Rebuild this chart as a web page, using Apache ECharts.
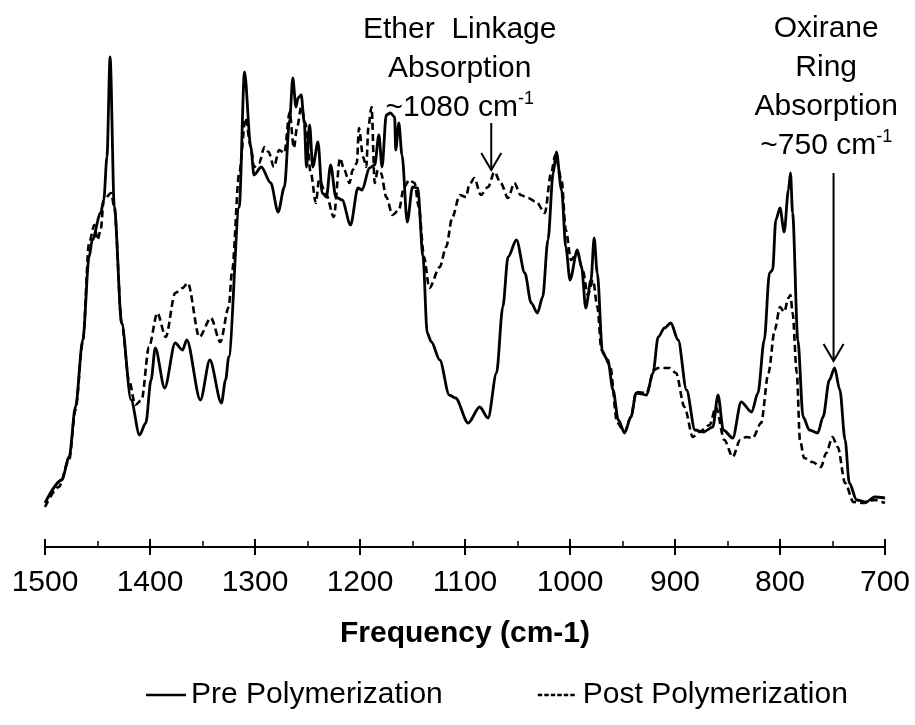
<!DOCTYPE html>
<html>
<head>
<meta charset="utf-8">
<title>FTIR spectra</title>
<script src="https://cdn.jsdelivr.net/npm/echarts@6/dist/echarts.min.js"></script>
<style>
  html, body { margin: 0; padding: 0; background: #fff; }
  #chart { width: 915px; height: 725px; }
</style>
</head>
<body>
<div id="chart"></div>
<script>
// Wavenumber axis ticks (cm-1), drawn high to low
const freqTicks = [1500, 1400, 1300, 1200, 1100, 1000, 900, 800, 700];

// Pre-polymerization spectrum: wavenumber and relative absorbance
const freqPre = [1500,1484,1477,1471,1464,1458,1455,1447,1444,1441,1438,1434,1427,1418,1410,1404,1399,1395,1386,1376,1369,1365,1352,1343,1332,1328,1325,1315,1310,1304,1301,1294,1285,1278,1272,1267,1264,1261,1259,1256,1253,1251,1248,1245,1240,1236,1232,1228,1223,1217,1209,1202,1198,1191,1186,1182,1179,1175,1171,1167,1166,1163,1160,1155,1150,1145,1140,1136,1132,1124,1115,1109,1097,1086,1078,1070,1064,1059,1051,1043,1037,1031,1026,1021,1016,1013,1008,1004,1000,993,989,985,980,977,974,969,964,959,954,948,942,937,927,921,916,910,904,897,889,881,873,864,859,854,845,837,827,821,815,810,807,804,800,796,792,790,788,783,778,772,764,759,753,748,743,738,734,727,718,710,700];
const absPre = [0.088,0.134,0.180,0.280,0.414,0.580,0.614,0.668,0.694,0.780,0.980,0.680,0.448,0.294,0.224,0.248,0.334,0.398,0.318,0.408,0.394,0.414,0.294,0.374,0.288,0.334,0.380,0.680,0.950,0.800,0.744,0.760,0.728,0.670,0.720,0.854,0.938,0.880,0.898,0.904,0.848,0.760,0.844,0.760,0.810,0.708,0.700,0.764,0.700,0.694,0.644,0.718,0.714,0.758,0.764,0.824,0.760,0.864,0.868,0.860,0.794,0.848,0.784,0.650,0.720,0.718,0.580,0.428,0.410,0.374,0.304,0.298,0.248,0.280,0.258,0.348,0.480,0.580,0.614,0.548,0.488,0.468,0.500,0.614,0.748,0.790,0.714,0.600,0.534,0.594,0.560,0.478,0.534,0.618,0.548,0.388,0.374,0.314,0.254,0.228,0.260,0.308,0.304,0.348,0.420,0.438,0.448,0.414,0.314,0.234,0.230,0.240,0.304,0.234,0.218,0.290,0.270,0.308,0.414,0.548,0.554,0.654,0.678,0.630,0.714,0.748,0.668,0.414,0.260,0.234,0.228,0.260,0.334,0.358,0.314,0.214,0.128,0.094,0.090,0.100,0.098];

// Post-polymerization spectrum
const freqPost = [1500,1487,1477,1471,1464,1458,1453,1450,1447,1444,1437,1434,1427,1420,1414,1408,1401,1393,1385,1376,1369,1364,1353,1342,1333,1325,1322,1315,1309,1304,1301,1296,1291,1287,1282,1277,1272,1267,1263,1260,1256,1252,1247,1242,1239,1232,1225,1219,1215,1210,1207,1203,1201,1197,1194,1192,1189,1186,1183,1180,1175,1169,1163,1158,1153,1148,1144,1139,1134,1124,1118,1112,1105,1099,1096,1091,1085,1078,1072,1066,1059,1053,1047,1040,1032,1024,1018,1014,1008,1004,999,993,988,983,978,974,970,962,955,948,942,937,927,920,916,905,899,891,883,877,867,861,853,845,838,832,826,818,811,805,800,796,792,790,788,784,781,777,769,761,756,750,745,738,730,721,710,700];
const absPost = [0.080,0.120,0.174,0.274,0.410,0.608,0.644,0.614,0.634,0.694,0.708,0.680,0.448,0.334,0.284,0.294,0.400,0.468,0.420,0.508,0.518,0.528,0.420,0.458,0.410,0.480,0.548,0.748,0.858,0.800,0.760,0.768,0.800,0.790,0.760,0.794,0.788,0.870,0.798,0.838,0.880,0.848,0.750,0.688,0.734,0.704,0.660,0.778,0.754,0.728,0.754,0.768,0.838,0.780,0.760,0.840,0.880,0.728,0.754,0.748,0.700,0.664,0.674,0.720,0.734,0.728,0.680,0.580,0.518,0.560,0.600,0.660,0.704,0.700,0.724,0.738,0.704,0.720,0.750,0.728,0.698,0.728,0.704,0.698,0.690,0.668,0.748,0.784,0.734,0.634,0.574,0.590,0.554,0.504,0.534,0.480,0.394,0.364,0.248,0.230,0.260,0.310,0.308,0.354,0.358,0.358,0.348,0.280,0.220,0.230,0.244,0.280,0.214,0.180,0.214,0.220,0.218,0.248,0.348,0.434,0.480,0.470,0.498,0.504,0.468,0.348,0.214,0.178,0.170,0.160,0.188,0.220,0.200,0.128,0.090,0.088,0.094,0.088];

// Annotated bands: [arrow wavenumber, arrow top, arrow tip, text-centre wavenumber]
const etherBand = [1075, 0.848, 0.754, 1105];
const oxiraneBand = [749, 0.748, 0.372, 756];

const FONT = '"Liberation Sans", Arial, sans-serif';
const zip = (xs, ys) => xs.map((x, i) => [x, ys[i]]);

// Legend swatches: a solid rule and a rule of short dashes (40 x 2.5)
const SOLID_ICON = 'path://M0,0H40V2.5H0Z';
const DASH_ICON = 'path://' + [0, 6.5, 13, 19.5, 26, 32.5].map(x => `M${x},0h4.5v2.5h-4.5Z`).join('') + 'M39.9,0h0.1v2.5h-0.1Z';

const chart = echarts.init(document.getElementById('chart'), null, { renderer: 'canvas' });

const xMin = Math.min(...freqTicks), xMax = Math.max(...freqTicks);
const xStep = freqTicks[0] - freqTicks[1];

chart.setOption({
  animation: false,
  backgroundColor: '#fff',
  grid: { left: 45, right: 30, top: 47, bottom: 178, containLabel: false },
  xAxis: [{
    type: 'value', inverse: true, min: xMin, max: xMax, interval: xStep,
    name: 'Frequency (cm-1)', nameLocation: 'middle', nameGap: 72,
    nameTextStyle: { fontFamily: FONT, fontSize: 30, fontWeight: 'bold', color: '#000' },
    axisLine: { lineStyle: { color: '#000', width: 2 } },
    axisTick: { show: true, length: 8, lineStyle: { color: '#000', width: 2 } },
    axisLabel: { fontFamily: FONT, fontSize: 30, color: '#000', margin: 21, formatter: v => String(v) },
    splitLine: { show: false }
  }, {
    // inner half of the major ticks plus the minor ticks
    type: 'value', inverse: true, min: xMin, max: xMax, interval: xStep, position: 'bottom',
    axisLine: { show: false },
    axisTick: { show: true, inside: true, length: 8, lineStyle: { color: '#000', width: 2 } },
    minorTick: { show: true, splitNumber: 2, length: 6, lineStyle: { color: '#000', width: 1.5 } },
    axisLabel: { show: false },
    splitLine: { show: false }
  }],
  yAxis: { type: 'value', min: 0, max: 1, show: false, splitLine: { show: false } },
  legend: {
    orient: 'horizontal', left: 141, top: 675, width: 770,
    itemWidth: 40, itemHeight: 2.5, itemGap: 95,
    textStyle: { fontFamily: FONT, fontSize: 30, color: '#000' },
    data: [
      { name: 'Pre Polymerization', icon: SOLID_ICON },
      { name: 'Post Polymerization', icon: DASH_ICON }
    ]
  },
  series: [{
    name: 'Pre Polymerization', type: 'line', xAxisIndex: 0,
    data: zip(freqPre, absPre), symbol: 'none', smooth: 0.3, smoothMonotone: 'x',
    lineStyle: { color: '#000', width: 2.8 }, itemStyle: { color: '#000' }, z: 3
  }, {
    name: 'Post Polymerization', type: 'line', xAxisIndex: 0,
    data: zip(freqPost, absPost), symbol: 'none', smooth: 0.3, smoothMonotone: 'x',
    lineStyle: { color: '#000', width: 2.6, type: [7, 4] }, itemStyle: { color: '#000' }, z: 2
  }]
});

// Arrows and band labels placed from data coordinates
function arrow(band) {
  const top = chart.convertToPixel({ gridIndex: 0 }, [band[0], band[1]]);
  const tip = chart.convertToPixel({ gridIndex: 0 }, [band[0], band[2]]);
  const st = { stroke: '#000', lineWidth: 2, fill: null };
  return [
    { type: 'line', shape: { x1: top[0], y1: top[1], x2: tip[0], y2: tip[1] }, style: st, z: 10 },
    { type: 'polyline', shape: { points: [[tip[0] - 10, tip[1] - 17], [tip[0], tip[1]], [tip[0] + 10, tip[1] - 17]] }, style: st, z: 10 }
  ];
}
function label(band, text, y) {
  const p = chart.convertToPixel({ gridIndex: 0 }, [band[3], 0.5]);
  return {
    type: 'text', x: p[0], y: y, z: 10,
    style: {
      text: text, fontFamily: FONT, fontSize: 30, fill: '#000',
      align: 'center', verticalAlign: 'top', lineHeight: 39,
      rich: { sup: { fontFamily: FONT, fontSize: 18, lineHeight: 39, verticalAlign: 'top', padding: [2, 0, 0, 0] } }
    }
  };
}

chart.setOption({
  graphic: [
    ...arrow(etherBand),
    ...arrow(oxiraneBand),
    label(etherBand, 'Ether  Linkage\nAbsorption\n~1080 cm{sup|-1}', 10),
    label(oxiraneBand, 'Oxirane\nRing\nAbsorption\n~750 cm{sup|-1}', 9)
  ]
});
</script>
</body>
</html>
